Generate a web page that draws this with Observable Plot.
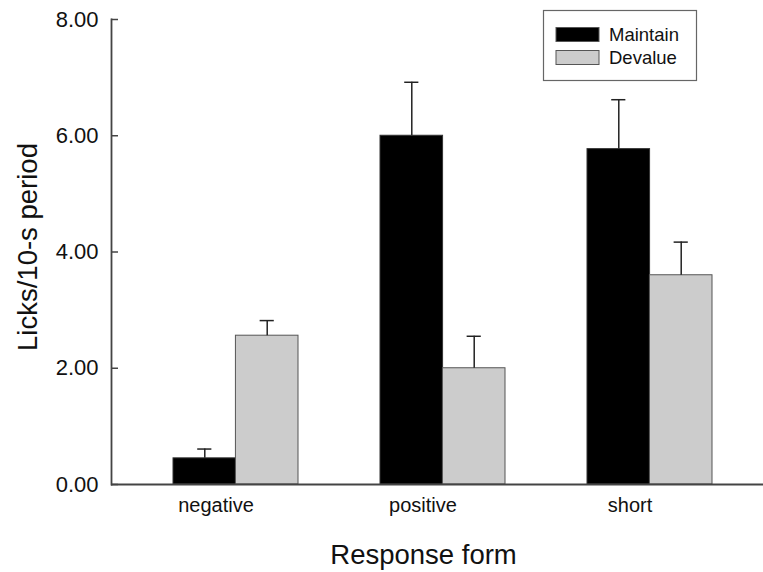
<!DOCTYPE html>
<html>
<head>
<meta charset="utf-8">
<script src="https://cdn.jsdelivr.net/npm/d3@7"></script>
<script src="https://cdn.jsdelivr.net/npm/@observablehq/plot@0.6"></script>
<style>
  html, body { margin: 0; padding: 0; background: #fff; }
  #chart { width: 763px; height: 572px; }
</style>
</head>
<body>
<div id="chart"></div>
<script>
// ---- data ----
const categories = ["negative", "positive", "short"];
const seriesNames = ["Maintain", "Devalue"];
const maintainMeans = [0.45, 6.00, 5.77];
const maintainErrors = [0.16, 0.92, 0.85];
const devalueMeans = [2.56, 2.00, 3.60];
const devalueErrors = [0.26, 0.55, 0.57];
const yTicks = [0, 2, 4, 6, 8];
const xTitle = "Response form";
const yTitle = "Licks/10-s period";

// ---- table ----
const rows = [];
categories.forEach((c, i) => {
  rows.push({category: c, series: "Maintain", mean: maintainMeans[i], top: maintainMeans[i] + maintainErrors[i]});
  rows.push({category: c, series: "Devalue", mean: devalueMeans[i], top: devalueMeans[i] + devalueErrors[i]});
});
const maintain = rows.filter(d => d.series === "Maintain");
const devalue = rows.filter(d => d.series === "Devalue");

// ---- layout / style ----
const W = 763, H = 572;
const mL = 111, mR = 0, mT = 19, mB = 88;
const pInner = 0.398, pOuter = 0.271, align = 0.544;
const step = (W - mL - mR) / (categories.length - pInner + 2 * pOuter);
const bw = step * (1 - pInner);
const half = bw / 2;
const capHalf = 7;
const colors = {Maintain: "#000000", Devalue: "#cccccc"};
const FONT = "'Liberation Sans', Arial, Helvetica, sans-serif";

function legendMark(index, scales, values, dims) {
  const g = d3.create("svg:g").attr("font-family", FONT);
  const x0 = 543.5, y0 = 10.5, bwid = 153, bhgt = 70;
  g.append("rect").attr("x", x0).attr("y", y0).attr("width", bwid).attr("height", bhgt)
    .attr("fill", "#fff").attr("stroke", "#666").attr("stroke-width", 1.2);
  seriesNames.forEach((s, i) => {
    const sy = 27.5 + i * 23;
    g.append("rect").attr("x", 556).attr("y", sy).attr("width", 43).attr("height", 14)
      .attr("fill", colors[s]).attr("stroke", "#555").attr("stroke-width", 1);
    g.append("text").attr("x", 609).attr("y", sy + 7).attr("dy", "0.35em")
      .attr("text-anchor", "start")
      .attr("font-size", 18.5).attr("fill", "#111").text(s);
  });
  return g.node();
}

const chart = Plot.plot({
  width: W,
  height: H,
  marginLeft: mL,
  marginRight: mR,
  marginTop: mT,
  marginBottom: mB,
  style: {fontFamily: FONT, background: "#fff", color: "#111"},
  x: {domain: categories, paddingInner: pInner, paddingOuter: pOuter, align: align, label: null},
  y: {domain: [0, 8], label: null},
  marks: [
    // bars
    Plot.barY(maintain, {x: "category", y: "mean", fill: colors.Maintain, stroke: "#333", strokeWidth: 1, insetRight: half}),
    Plot.barY(devalue, {x: "category", y: "mean", fill: colors.Devalue, stroke: "#555", strokeWidth: 1, insetLeft: half}),
    // error bars (upper only)
    Plot.ruleX(maintain, {x: "category", y1: "mean", y2: "top", stroke: "#222", strokeWidth: 1.5, dx: -half / 2}),
    Plot.ruleX(devalue, {x: "category", y1: "mean", y2: "top", stroke: "#222", strokeWidth: 1.5, dx: half / 2}),
    Plot.tickY(maintain, {x: "category", y: "top", stroke: "#222", strokeWidth: 1.5,
      insetLeft: half / 2 - capHalf, insetRight: bw - half / 2 - capHalf}),
    Plot.tickY(devalue, {x: "category", y: "top", stroke: "#222", strokeWidth: 1.5,
      insetLeft: bw - half / 2 - capHalf, insetRight: half / 2 - capHalf}),
    // axes
    Plot.axisY({ticks: yTicks, tickFormat: d3.format(".2f"), tickSize: -7, tickPadding: 20,
      fontSize: 22, stroke: "#444", strokeWidth: 1.5, label: null}),
    Plot.axisX({tickSize: 0, tickPadding: 13, fontSize: 20, dx: -20, label: null}),
    Plot.frame({anchor: "left", stroke: "#444", strokeWidth: 1.8}),
    Plot.ruleY([0], {stroke: "#444", strokeWidth: 1.8}),
    // titles
    Plot.text([xTitle], {frameAnchor: "bottom", text: d => d, dy: 71, dx: -14, fontSize: 27.5,
      textAnchor: "middle", lineAnchor: "middle", fill: "#111"}),
    Plot.text([yTitle], {frameAnchor: "left", text: d => d, dx: -83, dy: -5, rotate: -90, fontSize: 27.5,
      textAnchor: "middle", lineAnchor: "middle", fill: "#111"}),
    // legend
    legendMark
  ]
});
document.getElementById("chart").append(chart);
</script>
</body>
</html>
